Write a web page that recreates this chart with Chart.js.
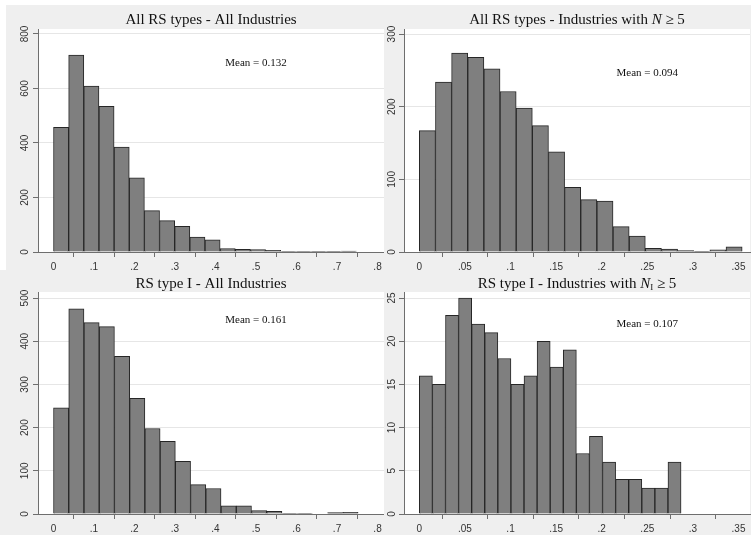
<!DOCTYPE html>
<html>
<head>
<meta charset="utf-8">
<title>RS histograms</title>
<script src="https://cdn.jsdelivr.net/npm/chart.js@4/dist/chart.umd.min.js"></script>
<style>
  html, body { margin: 0; padding: 0; background: #efefef; }
  #fig { position: relative; width: 751px; height: 535px; overflow: hidden; background: #efefef; }
  .edge { position: absolute; background: #ffffff; }
  canvas { position: absolute; }
</style>
</head>
<body>
<div id="fig">
  <div class="edge" style="left:0;top:0;width:751px;height:5px"></div>
  <div class="edge" style="left:0;top:0;width:6px;height:270px"></div>
  <canvas id="pTL"></canvas>
  <canvas id="pTR"></canvas>
  <canvas id="pBL"></canvas>
  <canvas id="pBR"></canvas>
</div>
<script>
// ---- data: histogram counts per bin (20 bins each, starting at 0) ----
const countsAllTypesAllInd = [457, 722, 609, 534, 385, 272, 152, 115, 94, 55, 45, 13, 10, 9, 6, 2, 2, 1, 1, 3];
const countsAllTypesN5     = [167, 234, 274, 268, 252, 221, 198, 174, 138, 89, 72, 70, 35, 22, 5, 4, 2, 1, 3, 7];
const countsTypeIAllInd    = [246, 475, 443, 434, 365, 268, 198, 168, 122, 68, 59, 19, 19, 8, 6, 1, 1, 0, 3, 4];
const countsTypeIN5        = [16, 15, 23, 25, 22, 21, 18, 15, 16, 20, 17, 19, 7, 9, 6, 4, 4, 3, 3, 6];

// bin widths of each histogram
const binWidthAllTypesAllInd = 0.0374;
const binWidthAllTypesN5     = 0.0177;
const binWidthTypeIAllInd    = 0.0376;
const binWidthTypeIN5        = 0.01435;

// means shown on each panel
const meanAllTypesAllInd = '0.132';
const meanAllTypesN5     = '0.094';
const meanTypeIAllInd    = '0.161';
const meanTypeIN5        = '0.107';

// axis ticks and their labels
const xTicksWide       = [0, 0.1, 0.2, 0.3, 0.4, 0.5, 0.6, 0.7, 0.8];
const xTickLabelsWide  = ['0', '.1', '.2', '.3', '.4', '.5', '.6', '.7', '.8'];
const xTicksNarrow     = [0, 0.05, 0.1, 0.15, 0.2, 0.25, 0.3, 0.35];
const xTickLabelsNarrow = ['0', '.05', '.1', '.15', '.2', '.25', '.3', '.35'];
const yTicksTL = [0, 200, 400, 600, 800];
const yTicksTR = [0, 100, 200, 300];
const yTicksBL = [0, 100, 200, 300, 400, 500];
const yTicksBR = [0, 5, 10, 15, 20, 25];

// ---- drawing ----
const SERIF = "'Liberation Serif', 'Times New Roman', serif";
const SANS = "'Liberation Sans', Arial, sans-serif";

function binPoints(counts, width) {
  return counts.map((c, i) => ({ x: (i + 0.5) * width, y: c }));
}

// white plot region, title above it and the mean note inside it
const panelDecor = {
  id: 'panelDecor',
  beforeDraw(chart, args, opts) {
    const a = chart.chartArea, ctx = chart.ctx;
    ctx.save();
    ctx.fillStyle = '#ffffff';
    ctx.fillRect(a.left, a.top, a.right - a.left, a.bottom - a.top);
    ctx.restore();
  },
  afterDraw(chart, args, opts) {
    const a = chart.chartArea, ctx = chart.ctx;
    ctx.save();
    // title with optional italic / subscript parts
    const parts = opts.title.map(p => {
      let font;
      if (p[1] === 'i') font = 'italic 15px ' + SERIF;
      else if (p[1] === 'sub') font = '9px ' + SERIF;
      else font = '15px ' + SERIF;
      ctx.font = font;
      return { text: p[0], font, kind: p[1], w: ctx.measureText(p[0]).width };
    });
    const total = parts.reduce((s, p) => s + p.w, 0);
    let x = (a.left + a.right) / 2 - total / 2;
    ctx.fillStyle = '#111111';
    ctx.textBaseline = 'alphabetic';
    ctx.textAlign = 'left';
    for (const p of parts) {
      ctx.font = p.font;
      ctx.fillText(p.text, x, opts.titleY + (p.kind === 'sub' ? 2 : 0));
      x += p.w;
    }
    // mean note positioned in data coordinates
    const xs = chart.scales.x, ys = chart.scales.y;
    ctx.font = '11px ' + SERIF;
    ctx.textAlign = 'center';
    ctx.textBaseline = 'middle';
    ctx.fillText('Mean = ' + opts.mean, xs.getPixelForValue(opts.meanAt[0]), ys.getPixelForValue(opts.meanAt[1]));
    ctx.restore();
  }
};

function makePanel(id, p) {
  const cv = document.getElementById(id);
  cv.width = p.w; cv.height = p.h;
  cv.style.left = p.left + 'px'; cv.style.top = p.top + 'px';
  cv.style.width = p.w + 'px'; cv.style.height = p.h + 'px';

  return new Chart(cv, {
    type: 'bar',
    data: {
      datasets: [{
        data: binPoints(p.counts, p.binWidth),
        backgroundColor: '#7f7f7f',
        borderColor: '#262626',
        borderWidth: 1,
        barPercentage: 1,
        categoryPercentage: 1,
        grouped: false
      }]
    },
    plugins: [panelDecor],
    options: {
      responsive: false,
      devicePixelRatio: 1,
      animation: false,
      events: [],
      layout: { padding: { left: 0, top: p.area.top, right: p.w - p.area.right, bottom: 0 } },
      plugins: {
        legend: { display: false },
        tooltip: { enabled: false },
        title: { display: false },
        panelDecor: { title: p.title, titleY: p.titleY, mean: p.mean, meanAt: p.meanAt }
      },
      scales: {
        x: {
          type: 'linear',
          offset: false,
          min: p.xRange[0],
          max: p.xRange[1],
          afterBuildTicks(s) { s.ticks = p.xTicks.map(v => ({ value: v })); },
          afterFit(s) { s.height = p.h - p.area.bottom; s.paddingLeft = 0; s.paddingRight = 0; },
          ticks: {
            autoSkip: false, maxRotation: 0, minRotation: 0, padding: 4,
            color: '#333333', font: { family: SANS, size: 10 },
            callback: (v, i) => p.xLabels[i]
          },
          grid: { display: true, drawOnChartArea: false, drawTicks: true, tickLength: 5, tickColor: '#6e6e6e', tickWidth: 1 },
          border: { display: true, color: '#6e6e6e', width: 1 }
        },
        y: {
          type: 'linear',
          min: 0,
          max: p.yMax,
          afterBuildTicks(s) { s.ticks = p.yTicks.map(v => ({ value: v })); },
          afterFit(s) { s.width = p.area.left; s.paddingTop = 0; s.paddingBottom = 0; },
          ticks: {
            autoSkip: false, minRotation: 90, maxRotation: 90, crossAlign: 'center', padding: p.yPad,
            color: '#333333', font: { family: SANS, size: 10 },
            callback: v => String(v)
          },
          grid: { display: true, color: '#e6e6e6', lineWidth: 1, drawTicks: true, tickLength: 5, tickColor: '#6e6e6e', tickWidth: 1 },
          border: { display: true, color: '#6e6e6e', width: 1 }
        }
      }
    }
  });
}

makePanel('pTL', {
  left: 0, top: 0, w: 384, h: 272,
  area: { left: 38, top: 29, right: 384, bottom: 252 },
  counts: countsAllTypesAllInd, binWidth: binWidthAllTypesAllInd,
  xRange: [-0.0383, 0.816], xTicks: xTicksWide, xLabels: xTickLabelsWide,
  yMax: 818, yTicks: yTicksTL, yPad: -0.5,
  title: [['All RS types - All Industries', 'n']], titleY: 24,
  mean: meanAllTypesAllInd, meanAt: [0.5, 694]
});

makePanel('pTR', {
  left: 384, top: 0, w: 367, h: 272,
  area: { left: 20, top: 29, right: 366, bottom: 252 },
  counts: countsAllTypesN5, binWidth: binWidthAllTypesN5,
  xRange: [-0.0168, 0.3626], xTicks: xTicksNarrow, xLabels: xTickLabelsNarrow,
  yMax: 307, yTicks: yTicksTR, yPad: -2,
  title: [['All RS types - Industries with ', 'n'], ['N', 'i'], [' \u2265 5', 'n']], titleY: 24,
  mean: meanAllTypesN5, meanAt: [0.25, 246]
});

makePanel('pBL', {
  left: 0, top: 272, w: 384, h: 263,
  area: { left: 38, top: 20, right: 384, bottom: 242 },
  counts: countsTypeIAllInd, binWidth: binWidthTypeIAllInd,
  xRange: [-0.0383, 0.816], xTicks: xTicksWide, xLabels: xTickLabelsWide,
  yMax: 514, yTicks: yTicksBL, yPad: -0.5,
  title: [['RS type I - All Industries', 'n']], titleY: 16,
  mean: meanTypeIAllInd, meanAt: [0.5, 448]
});

makePanel('pBR', {
  left: 384, top: 272, w: 367, h: 263,
  area: { left: 20, top: 20, right: 366, bottom: 242 },
  counts: countsTypeIN5, binWidth: binWidthTypeIN5,
  xRange: [-0.0168, 0.3626], xTicks: xTicksNarrow, xLabels: xTickLabelsNarrow,
  yMax: 25.7, yTicks: yTicksBR, yPad: 1.5,
  title: [['RS type I - Industries with ', 'n'], ['N', 'i'], ['I', 'sub'], [' \u2265 5', 'n']], titleY: 16,
  mean: meanTypeIN5, meanAt: [0.25, 22]
});
</script>
</body>
</html>
